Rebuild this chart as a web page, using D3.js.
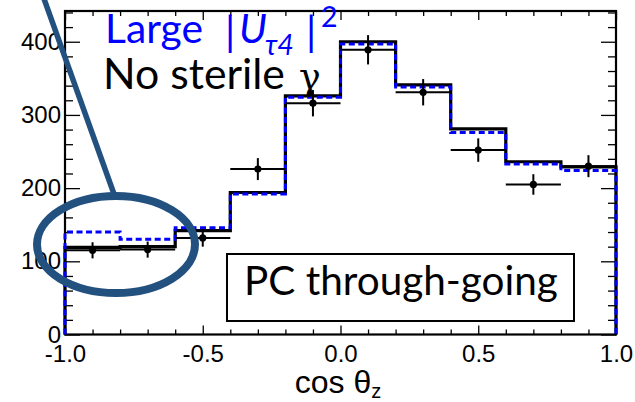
<!DOCTYPE html>
<html><head><meta charset="utf-8">
<script src="https://cdn.jsdelivr.net/npm/d3@7"></script>
<style>body{margin:0;background:#fff}svg{display:block}</style>
</head><body>
<svg id="c" width="635" height="402"></svg>
<script>
// ---- data ----
const binEdges = [-1.0, -0.8, -0.6, -0.4, -0.2, 0.0, 0.2, 0.4, 0.6, 0.8, 1.0];
const noSterile = [119, 120, 142, 194, 326, 400, 341, 281, 236, 229];
const largeUt4 = [140, 130, 146, 192, 324, 397, 338, 276, 233, 224];
const dataCenters = [-0.9, -0.7, -0.5, -0.3, -0.1, 0.1, 0.3, 0.5, 0.7, 0.9];
const dataHalfWidth = [0.1, 0.1, 0.1, 0.1, 0.1, 0.1, 0.1, 0.1, 0.1, 0.1];
const dataValues = [115, 116, 132, 226, 316, 389, 331, 252, 205, 230];
const dataErrors = [11, 11, 12, 15, 18, 20, 18, 16, 14, 15];
const xMajorTicks = [-1.0, -0.5, 0.0, 0.5, 1.0];
const xMinorTicks = [-0.9, -0.8, -0.7, -0.6, -0.4, -0.3, -0.2, -0.1, 0.1, 0.2, 0.3, 0.4, 0.6, 0.7, 0.8, 0.9];
const yMajorTicks = [0, 100, 200, 300, 400];
const yMinorTicks = [20, 40, 60, 80, 120, 140, 160, 180, 220, 240, 260, 280, 320, 340, 360, 380, 420, 440];
const xDomain = [-1.0, 1.0];
const yDomain = [0, 442];

// ---- layout ----
const svg = d3.select('#c');
const L = 65, R = 616, T = 11, B = 334.5;
const x = d3.scaleLinear().domain(xDomain).range([L, R]);
const y = d3.scaleLinear().domain(yDomain).range([B, T]);
const tickFont = '"Liberation Sans", Arial, sans-serif';
const calFont = 'Lato, "Open Sans", sans-serif';

svg.append('rect').attr('width', 635).attr('height', 402).attr('fill', '#fff');

function styleAxis(g) {
  g.select('.domain').remove();
  g.selectAll('line').attr('stroke', '#000').attr('stroke-width', 1.3);
  g.selectAll('text').attr('fill', '#000').attr('font-family', tickFont).attr('font-size', 24);
}
// bottom
svg.append('g').attr('transform', `translate(0,${B})`)
  .call(d3.axisBottom(x).tickValues(xMajorTicks).tickSize(-9).tickPadding(10).tickFormat(d => d.toFixed(1)))
  .call(styleAxis);
svg.append('g').attr('transform', `translate(0,${B})`)
  .call(d3.axisBottom(x).tickValues(xMinorTicks).tickSize(-5).tickFormat(''))
  .call(styleAxis);
// top
svg.append('g').attr('transform', `translate(0,${T})`)
  .call(d3.axisTop(x).tickValues(xMajorTicks).tickSize(-9).tickFormat(''))
  .call(styleAxis);
svg.append('g').attr('transform', `translate(0,${T})`)
  .call(d3.axisTop(x).tickValues(xMinorTicks).tickSize(-5).tickFormat(''))
  .call(styleAxis);
// left
svg.append('g').attr('transform', `translate(${L},0)`)
  .call(d3.axisLeft(y).tickValues(yMajorTicks).tickSize(-15).tickPadding(4).tickFormat(d3.format('d')))
  .call(styleAxis);
svg.append('g').attr('transform', `translate(${L},0)`)
  .call(d3.axisLeft(y).tickValues(yMinorTicks.filter(v => v < 442)).tickSize(-8).tickFormat(''))
  .call(styleAxis);
// right
svg.append('g').attr('transform', `translate(${R},0)`)
  .call(d3.axisRight(y).tickValues(yMajorTicks).tickSize(-15).tickFormat(''))
  .call(styleAxis);
svg.append('g').attr('transform', `translate(${R},0)`)
  .call(d3.axisRight(y).tickValues(yMinorTicks.filter(v => v < 442)).tickSize(-8).tickFormat(''))
  .call(styleAxis);

// frame
svg.append('rect').attr('x', L).attr('y', T).attr('width', R - L).attr('height', B - T)
  .attr('fill', 'none').attr('stroke', '#000').attr('stroke-width', 2.2);

// x title
const xt = svg.append('text').attr('x', 338).attr('y', 393).attr('text-anchor', 'middle')
  .attr('font-family', tickFont).attr('font-size', 32).attr('fill', '#000');
xt.append('tspan').text('cos θ');
xt.append('tspan').attr('font-size', 20).attr('dy', 5).text('z');

// ---- histograms ----
function histPoints(vals) {
  const pts = [[binEdges[0], 0]];
  vals.forEach((v, i) => { pts.push([binEdges[i], v]); pts.push([binEdges[i + 1], v]); });
  pts.push([binEdges[binEdges.length - 1], 0]);
  return pts;
}
const line = d3.line().x(d => x(d[0])).y(d => y(d[1]));
svg.append('path').attr('d', line(histPoints(noSterile)))
  .attr('fill', 'none').attr('stroke', '#000').attr('stroke-width', 3.2);
svg.append('path').attr('d', line(histPoints(largeUt4)))
  .attr('fill', 'none').attr('stroke', '#0000ff').attr('stroke-width', 3)
  .attr('stroke-dasharray', '6,3.5');

// ---- data points ----
const pts = svg.append('g');
dataCenters.forEach((c, i) => {
  const g = pts.append('g');
  g.append('line').attr('x1', x(c - dataHalfWidth[i])).attr('x2', x(c + dataHalfWidth[i]))
    .attr('y1', y(dataValues[i])).attr('y2', y(dataValues[i]))
    .attr('stroke', '#000').attr('stroke-width', 2);
  g.append('line').attr('x1', x(c)).attr('x2', x(c))
    .attr('y1', y(dataValues[i] - dataErrors[i])).attr('y2', y(dataValues[i] + dataErrors[i]))
    .attr('stroke', '#000').attr('stroke-width', 2);
  g.append('circle').attr('cx', x(c)).attr('cy', y(dataValues[i])).attr('r', 3.6).attr('fill', '#000');
});

// ---- legend texts ----
function fit(sel, target) {
  const fs = +sel.attr('font-size');
  const w = sel.node().getComputedTextLength();
  sel.attr('font-size', fs * target / w);
  return fs * target / w;
}
const blue = '#0000ff';
const t1 = svg.append('text').attr('x', 105).attr('y', 43).attr('font-family', calFont)
  .attr('font-size', 40).attr('fill', blue).text('Large');
const F1 = fit(t1, 98);
svg.append('text').attr('x', 225).attr('y', 46).attr('font-family', calFont)
  .attr('font-size', F1).attr('fill', blue).text('|');
svg.append('text').attr('x', 239).attr('y', 43).attr('font-family', calFont)
  .attr('font-size', F1).attr('font-style', 'italic').attr('fill', blue).text('U');
svg.append('text').attr('x', 265).attr('y', 55).attr('font-family', calFont)
  .attr('font-size', F1 * 0.7).attr('font-style', 'italic').attr('fill', blue).text('τ4');
svg.append('text').attr('x', 306).attr('y', 46).attr('font-family', calFont)
  .attr('font-size', F1).attr('fill', blue).text('|');
svg.append('text').attr('x', 321).attr('y', 27).attr('font-family', calFont)
  .attr('font-size', F1 * 0.7).attr('fill', blue).text('2');

const t2 = svg.append('text').attr('x', 103).attr('y', 89).attr('font-family', calFont)
  .attr('font-size', 40).attr('fill', '#000').text('No sterile');
const F2 = fit(t2, 182);
svg.append('text').attr('x', 299).attr('y', 89).attr('font-family', '"DejaVu Serif", serif')
  .attr('font-size', F2 * 0.85).attr('fill', '#000').text('γ');

// ---- label box ----
svg.append('rect').attr('x', 227).attr('y', 254).attr('width', 347).attr('height', 67)
  .attr('fill', '#fff').attr('stroke', '#000').attr('stroke-width', 2);
const t3 = svg.append('text').attr('x', 244).attr('y', 295).attr('font-family', calFont)
  .attr('font-size', 40).attr('fill', '#000').text('PC through-going');
fit(t3, 314);

// ---- annotation ----
const annot = '#22507f';
svg.append('line').attr('x1', 43).attr('y1', -4).attr('x2', 114).attr('y2', 194)
  .attr('stroke', annot).attr('stroke-width', 5.5);
svg.append('ellipse').attr('cx', 116).attr('cy', 244.5).attr('rx', 79).attr('ry', 48.5)
  .attr('fill', 'none').attr('stroke', annot).attr('stroke-width', 8);
</script>
</body></html>
